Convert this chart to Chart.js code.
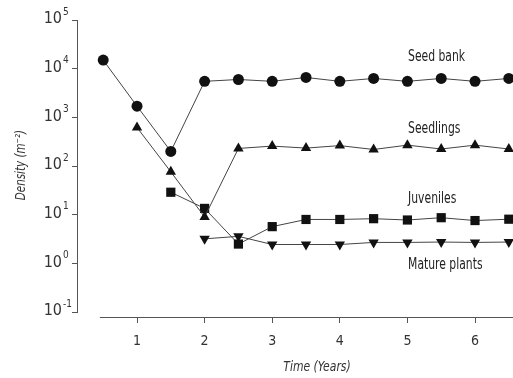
<!DOCTYPE html>
<html>
<head>
<meta charset="utf-8">
<script src="https://cdn.jsdelivr.net/npm/chart.js@4"></script>
<style>
  body { margin: 0; background: #fff; }
</style>
</head>
<body>
<canvas id="density" width="513" height="378"></canvas>
<script>
const FONT = "'DejaVu Sans Condensed', 'Liberation Sans Narrow', sans-serif";

// data
const years = [0.5, 1, 1.5, 2, 2.5, 3, 3.5, 4, 4.5, 5, 5.5, 6, 6.5];
const seedBank = [15000, 1700, 200, 5500, 6000, 5500, 6600, 5500, 6300, 5500, 6300, 5500, 6300];
const seedlings = [null, 620, 76, 9, 230, 257, 234, 263, 219, 269, 224, 269, 224];
const juveniles = [null, null, 29, 13.5, 2.5, 5.7, 8, 8, 8.3, 7.8, 8.7, 7.6, 8.1];
const maturePlants = [null, null, null, 3.2, 3.6, 2.45, 2.45, 2.45, 2.7, 2.7, 2.75, 2.7, 2.75];

const xTicks = [1, 2, 3, 4, 5, 6];
const yTicks = [0.1, 1, 10, 100, 1000, 10000, 100000];
const yExponents = ['-1', '0', '1', '2', '3', '4', '5'];

const seriesNames = ['Seed bank', 'Seedlings', 'Juveniles', 'Mature plants'];
const xTitle = 'Time (Years)';
const yTitle = 'Density (m⁻²)';

function pts(vals) {
  return years.map((x, i) => ({ x: x, y: vals[i] }));
}

function series(label, vals, style, radius, rotation) {
  return {
    label: label,
    data: pts(vals),
    borderColor: '#444',
    borderWidth: 1,
    backgroundColor: '#111',
    pointBackgroundColor: '#111',
    pointBorderColor: '#111',
    pointBorderWidth: 0,
    pointStyle: style,
    pointRadius: radius,
    pointRotation: rotation || 0,
    clip: false,
    tension: 0
  };
}

// narrow text, the figure uses a condensed face
function narrowText(ctx, text, x, y, size, opts) {
  opts = opts || {};
  ctx.save();
  ctx.translate(x, y);
  if (opts.rotate) ctx.rotate(opts.rotate);
  ctx.scale(opts.squeeze || 1, 1);
  ctx.font = (opts.italic ? 'italic ' : '') + size + 'px ' + FONT;
  ctx.textAlign = opts.align || 'left';
  ctx.textBaseline = 'middle';
  ctx.fillText(text, 0, 0);
  ctx.restore();
}

// axis lines drawn separately (y axis is offset from x axis in the figure)
const axisLines = {
  id: 'axisLines',
  beforeDatasetsDraw(chart) {
    const { ctx, chartArea, scales } = chart;
    ctx.save();
    ctx.strokeStyle = '#555';
    ctx.lineWidth = 1;
    ctx.beginPath();
    const x0 = Math.round(chartArea.left) - 0.5;
    ctx.moveTo(x0, scales.y.getPixelForValue(yTicks[yTicks.length - 1]));
    ctx.lineTo(x0, scales.y.getPixelForValue(yTicks[0]));
    const y0 = Math.round(chartArea.bottom) + 0.5;
    ctx.moveTo(scales.x.getPixelForValue(0.45), y0);
    ctx.lineTo(chartArea.right, y0);
    ctx.stroke();
    ctx.restore();
  },
  afterDraw(chart) {
    const { ctx, scales } = chart;
    ctx.save();
    ctx.fillStyle = '#333';
    // power-of-ten tick labels with raised exponents
    yTicks.forEach((v, i) => {
      const py = scales.y.getPixelForValue(v);
      narrowText(ctx, '10', 62, py - 1, 16, { align: 'right' });
      narrowText(ctx, yExponents[i], 63, py - 8, 10);
    });
    // axis titles
    narrowText(ctx, xTitle, 317, 367, 14, { italic: true, align: 'center', squeeze: 0.86 });
    narrowText(ctx, yTitle, 21, 165, 14, { italic: true, align: 'center', squeeze: 0.82, rotate: -Math.PI / 2 });
    ctx.restore();
  }
};

// series names next to the curves
const curveLabels = {
  id: 'curveLabels',
  afterDatasetsDraw(chart, args, opts) {
    const { ctx, scales } = chart;
    ctx.save();
    ctx.fillStyle = '#222';
    seriesNames.forEach((name, i) => {
      narrowText(ctx, name, scales.x.getPixelForValue(opts.x), scales.y.getPixelForValue(opts.y[i]), 16, { squeeze: 0.75 });
    });
    ctx.restore();
  }
};

new Chart(document.getElementById('density'), {
  type: 'line',
  data: {
    datasets: [
      series(seriesNames[0], seedBank, 'circle', 5.5),
      series(seriesNames[1], seedlings, 'triangle', 6),
      series(seriesNames[2], juveniles, 'rect', 6.5),
      series(seriesNames[3], maturePlants, 'triangle', 6, 180)
    ]
  },
  options: {
    responsive: false,
    animation: false,
    layout: { autoPadding: false, padding: { top: 20, right: 0, bottom: 0, left: 0 } },
    plugins: {
      legend: { display: false },
      tooltip: { enabled: false },
      curveLabels: { x: 5.01, y: [17600, 568, 21.3, 0.95] }
    },
    scales: {
      x: {
        type: 'linear',
        min: 0.127,
        max: 6.562,
        afterBuildTicks: (s) => { s.ticks = xTicks.map(v => ({ value: v })); },
        afterFit: (s) => { s.height = 61; s.paddingLeft = 0; s.paddingRight = 0; },
        border: { display: false },
        grid: { drawOnChartArea: false, drawTicks: true, tickLength: 6, color: '#555' },
        ticks: { color: '#333', padding: 10, font: { family: FONT, size: 14 } }
      },
      y: {
        type: 'logarithmic',
        min: 0.0794,
        max: 100000,
        afterBuildTicks: (s) => { s.ticks = yTicks.map(v => ({ value: v })); },
        afterFit: (s) => { s.width = 78; s.paddingTop = 0; s.paddingBottom = 0; },
        border: { display: false },
        grid: { drawOnChartArea: false, drawTicks: true, tickLength: 6, color: '#555' },
        ticks: { display: false }
      }
    }
  },
  plugins: [axisLines, curveLabels]
});
</script>
</body>
</html>
